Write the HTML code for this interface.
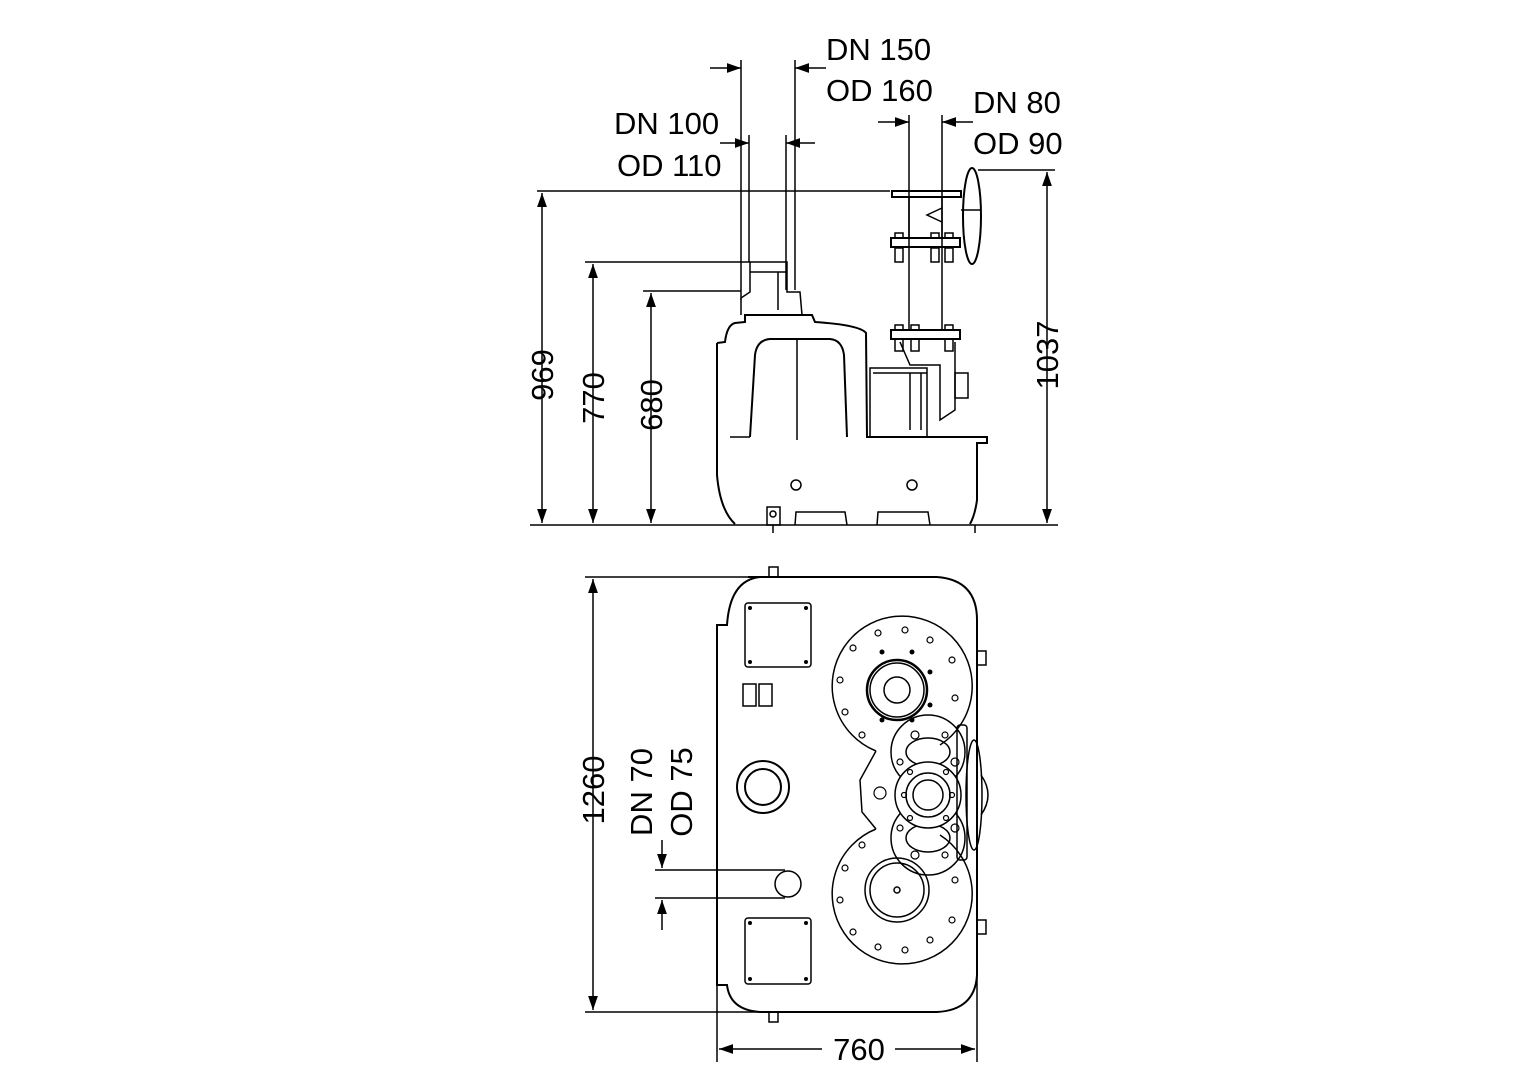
<!DOCTYPE html>
<html><head><meta charset="utf-8"><style>
html,body{margin:0;padding:0;background:#fff;}
svg{display:block;}
text{font-family:"Liberation Sans",sans-serif;font-size:31px;fill:#000;}
</style></head><body>
<svg width="1528" height="1080" viewBox="0 0 1528 1080" xmlns="http://www.w3.org/2000/svg">
<defs>
<marker id="a" viewBox="0 0 10 10" refX="10" refY="5" markerWidth="14" markerHeight="14" markerUnits="userSpaceOnUse" orient="auto-start-reverse"><path d="M0,1.5 L10,5 L0,8.5 z" fill="#000"/></marker>
</defs>
<g stroke="#000" stroke-width="1.5" fill="none">
<line x1="530" y1="525" x2="1058" y2="525"/>
<line x1="537" y1="191" x2="890" y2="191"/>
<line x1="585" y1="262" x2="750" y2="262"/>
<line x1="643" y1="291" x2="741" y2="291"/>
<line x1="978" y1="170" x2="1055" y2="170"/>
<line x1="542" y1="193" x2="542" y2="523" marker-start="url(#a)" marker-end="url(#a)"/>
<line x1="593" y1="264" x2="593" y2="523" marker-start="url(#a)" marker-end="url(#a)"/>
<line x1="651" y1="293" x2="651" y2="523" marker-start="url(#a)" marker-end="url(#a)"/>
<line x1="1047" y1="172" x2="1047" y2="523" marker-start="url(#a)" marker-end="url(#a)"/>
<line x1="741" y1="60" x2="741" y2="300"/>
<line x1="795" y1="60" x2="795" y2="290"/>
<line x1="710" y1="68" x2="741" y2="68" marker-end="url(#a)"/>
<line x1="826" y1="68" x2="795" y2="68" marker-end="url(#a)"/>
<line x1="749" y1="135" x2="749" y2="262"/>
<line x1="786" y1="135" x2="786" y2="290"/>
<line x1="720" y1="143" x2="749" y2="143" marker-end="url(#a)"/>
<line x1="815" y1="143" x2="786" y2="143" marker-end="url(#a)"/>
<line x1="909" y1="115" x2="909" y2="330"/>
<line x1="942" y1="115" x2="942" y2="330"/>
<line x1="878" y1="122" x2="909" y2="122" marker-end="url(#a)"/>
<line x1="973" y1="122" x2="942" y2="122" marker-end="url(#a)"/>
<g stroke-width="2">
<path d="M717,343 L717,475 Q720,510 735,524 M717,343 L725,342 Q727,325 735,323 L745,322 L745,315 L812,315 L815,322 Q860,325 866,333 L867,437 L987,437 L987,443 L977,443 L977,500 Q975,515 970,524"/>
<path d="M750,437 L755,355 Q757,340 770,339 L830,339 Q842,340 844,355 L847,437"/>
</g>
<line x1="797" y1="339" x2="797" y2="440"/>
<line x1="730" y1="437" x2="750" y2="437"/>
<circle cx="796" cy="485" r="5"/><circle cx="912" cy="485" r="5"/>
<path d="M795,525 L796,512 L845,512 L847,525 M877,525 L878,512 L928,512 L930,525"/>
<rect x="767" y="507" width="13" height="18"/><circle cx="773" cy="514" r="3"/>
<line x1="773" y1="525" x2="773" y2="533"/><line x1="975" y1="525" x2="975" y2="533"/>
<path d="M741,315 L741,298 L750,292 L750,262 L787,262 L787,292 L800,292 L802,315"/>
<line x1="750" y1="272" x2="787" y2="272"/>
<line x1="778" y1="272" x2="778" y2="310"/>
<rect x="870" y="368" width="57" height="69"/>
<line x1="873" y1="373" x2="927" y2="373"/>
<line x1="910" y1="373" x2="910" y2="430"/><line x1="921" y1="373" x2="921" y2="430"/>
<path d="M900,342 L910,365 L940,365 L940,420 L955,410 L955,342"/>
<rect x="955" y="373" width="13" height="25"/>
<g stroke-width="2">
<rect x="891" y="238" width="69" height="9"/>
<rect x="891" y="330" width="69" height="9"/>
<rect x="892" y="191" width="69" height="6"/>
<ellipse cx="972" cy="216" rx="9" ry="48"/>
</g>
<rect x="895" y="233" width="8" height="5"/><rect x="931" y="233" width="8" height="5"/><rect x="945" y="233" width="8" height="5"/>
<rect x="895" y="325" width="8" height="5"/><rect x="911" y="325" width="8" height="5"/><rect x="945" y="325" width="8" height="5"/>
<line x1="909" y1="197" x2="909" y2="238"/><line x1="942" y1="197" x2="942" y2="238"/>
<path d="M942,208 L927,215 L942,222"/>
<rect x="895" y="248" width="8" height="14"/><rect x="931" y="248" width="8" height="14"/><rect x="945" y="248" width="8" height="14"/>
<rect x="895" y="339" width="8" height="12"/><rect x="911" y="339" width="8" height="12"/><rect x="945" y="339" width="8" height="12"/>
<line x1="961" y1="210" x2="981" y2="210"/>
<line x1="593" y1="579" x2="593" y2="1010" marker-start="url(#a)" marker-end="url(#a)"/>
<line x1="585" y1="577" x2="770" y2="577"/>
<line x1="585" y1="1012" x2="770" y2="1012"/>
<path stroke-width="2" d="M748,577 L937,577 Q977,580 977,620 L977,975 Q975,1010 937,1012 L760,1012 Q730,1010 727,985 L717,985 L717,625 L727,625 Q730,580 760,577"/>
<rect x="769" y="567" width="9" height="10"/><rect x="769" y="1012" width="9" height="10"/>
<rect x="977" y="651" width="9" height="14"/><rect x="977" y="920" width="9" height="14"/>
<rect x="745" y="603" width="66" height="64" rx="3"/>
<rect x="745" y="918" width="66" height="66" rx="3"/>
<rect x="743" y="684" width="13" height="22"/><rect x="759" y="684" width="13" height="22"/>
<circle cx="763" cy="787" r="26" stroke-width="2"/><circle cx="763" cy="787" r="18" stroke-width="2"/>
<line x1="655" y1="870" x2="785" y2="870"/><line x1="655" y1="898" x2="785" y2="898"/>
<circle cx="788" cy="884" r="13"/>
<line x1="662" y1="840" x2="662" y2="868" marker-end="url(#a)"/>
<line x1="662" y1="930" x2="662" y2="900" marker-end="url(#a)"/>
<path d="M876,751 A70,70 0 1 1 940,745 M876,829 A70,70 0 1 0 940,835 M876,751 L860,780 L862,812 L876,829"/>
<circle cx="897" cy="690" r="30" stroke-width="2.5"/><circle cx="897" cy="690" r="27"/><circle cx="897" cy="690" r="13"/>
<circle cx="897" cy="890" r="32"/><circle cx="897" cy="890" r="27"/><circle cx="897" cy="890" r="3"/>
<circle cx="928" cy="752" r="37"/><circle cx="928" cy="838" r="37"/>
<ellipse cx="928" cy="752" rx="22" ry="14"/><ellipse cx="928" cy="838" rx="22" ry="14"/>
<circle cx="928" cy="795" r="33" fill="#fff"/><circle cx="928" cy="795" r="22"/><circle cx="928" cy="795" r="15"/>
<rect x="957" y="725" width="10" height="135" rx="3"/>
<ellipse cx="974" cy="795" rx="8" ry="55"/>
<path d="M981,775 Q995,795 981,815"/>
<g stroke-width="1.2">
<circle cx="853" cy="648" r="3"/><circle cx="840" cy="680" r="3"/><circle cx="845" cy="712" r="3"/><circle cx="862" cy="735" r="3"/>
<circle cx="878" cy="633" r="3"/><circle cx="905" cy="630" r="3"/><circle cx="930" cy="640" r="3"/><circle cx="952" cy="660" r="3"/><circle cx="955" cy="698" r="3"/>
<circle cx="853" cy="932" r="3"/><circle cx="840" cy="900" r="3"/><circle cx="845" cy="868" r="3"/><circle cx="862" cy="845" r="3"/>
<circle cx="878" cy="947" r="3"/><circle cx="905" cy="950" r="3"/><circle cx="930" cy="940" r="3"/><circle cx="952" cy="920" r="3"/><circle cx="955" cy="880" r="3"/>
<circle cx="915" cy="735" r="4"/><circle cx="945" cy="735" r="3"/><circle cx="900" cy="762" r="3"/><circle cx="955" cy="762" r="4"/>
<circle cx="915" cy="855" r="4"/><circle cx="945" cy="855" r="3"/><circle cx="900" cy="828" r="3"/><circle cx="955" cy="828" r="4"/>
<circle cx="880" cy="793" r="6"/>
<circle cx="910" cy="772" r="2.5"/><circle cx="946" cy="772" r="2.5"/><circle cx="904" cy="795" r="2.5"/><circle cx="952" cy="795" r="2.5"/><circle cx="910" cy="818" r="2.5"/><circle cx="946" cy="818" r="2.5"/>
</g>
<line x1="717" y1="985" x2="717" y2="1062"/><line x1="977" y1="975" x2="977" y2="1062"/>
<line x1="719" y1="1049" x2="822" y2="1049" marker-start="url(#a)"/>
<line x1="895" y1="1049" x2="975" y2="1049" marker-end="url(#a)"/>
</g>
<g fill="#000">
<circle cx="750" cy="608" r="2"/><circle cx="806" cy="608" r="2"/><circle cx="750" cy="662" r="2"/><circle cx="806" cy="662" r="2"/>
<circle cx="750" cy="923" r="2"/><circle cx="806" cy="923" r="2"/><circle cx="750" cy="979" r="2"/><circle cx="806" cy="979" r="2"/>
<circle cx="882" cy="652" r="2.5"/><circle cx="912" cy="652" r="2.5"/><circle cx="930" cy="672" r="2.5"/><circle cx="930" cy="705" r="2.5"/><circle cx="912" cy="720" r="2.5"/><circle cx="882" cy="720" r="2.5"/>
</g>
<text x="826" y="60">DN 150</text>
<text x="826" y="101">OD 160</text>
<text x="614" y="134">DN 100</text>
<text x="617" y="176">OD 110</text>
<text x="973" y="113">DN 80</text>
<text x="973" y="154">OD 90</text>
<text transform="translate(553,375) rotate(-90)" text-anchor="middle">969</text>
<text transform="translate(604,398) rotate(-90)" text-anchor="middle">770</text>
<text transform="translate(662,405) rotate(-90)" text-anchor="middle">680</text>
<text transform="translate(1058,355) rotate(-90)" text-anchor="middle">1037</text>
<text transform="translate(604,790) rotate(-90)" text-anchor="middle">1260</text>
<text transform="translate(652,792) rotate(-90)" text-anchor="middle">DN 70</text>
<text transform="translate(692,792) rotate(-90)" text-anchor="middle">OD 75</text>
<text x="859" y="1060" text-anchor="middle">760</text>
</svg>
</body></html>
